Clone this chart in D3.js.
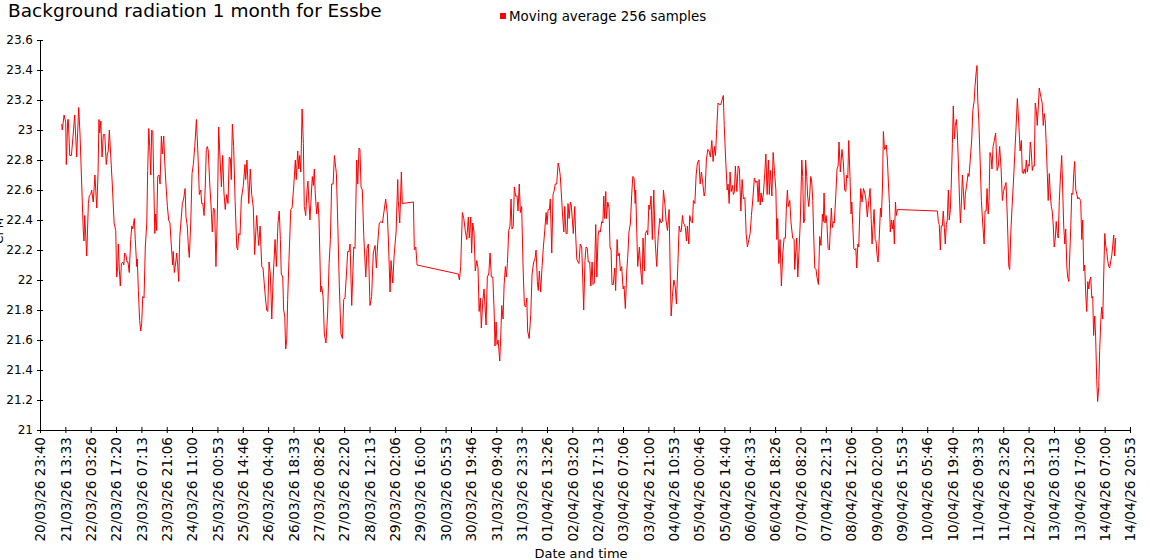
<!DOCTYPE html>
<html><head><meta charset="utf-8">
<script src="https://cdn.jsdelivr.net/npm/d3@7"></script>
<style>
body{margin:0;background:#fff}
svg{display:block}
text{font-family:"DejaVu Sans",Verdana,sans-serif;fill:#000}
</style>
</head><body>
<svg id="chart" width="1150" height="560"></svg>
<script>
const chartTitle = "Background radiation 1 month for Essbe";
const seriesName = "Moving average 256 samples";
const xTitle = "Date and time";
const yTitle = "CPM";
const startTime = "2026-03-20T23:40:00Z";
const endTime = "2026-04-14T20:53:20Z";
const xTickCount = 44;
const yTickValues = [21, 21.2, 21.4, 21.6, 21.8, 22, 22.2, 22.4, 22.6, 22.8, 23, 23.2, 23.4, 23.6];
const yTickLabels = ["21","21.2","21.4","21.6","21.8","22","22.2","22.4","22.6","22.8","23","23.2","23.4","23.6"];
// [hours since start, value]
const readings = [
[11.9,23.04],[12.2,23.00],[13.2,23.10],[14.1,23.05],[14.4,22.77],[15.2,23.07],[15.5,23.07],[16.3,22.83],[17.2,22.83],[18.1,22.96],
[19.0,23.10],[20.1,22.82],[21.2,23.15],[21.9,22.98],[22.9,22.62],[23.7,22.33],[24.1,22.26],[24.5,22.43],[25.6,22.16],[26.5,22.51],
[27.0,22.56],[27.8,22.57],[28.3,22.60],[29.2,22.52],[30.1,22.70],[31.1,22.48],[31.8,22.71],[32.3,23.07],[32.7,22.98],[33.3,23.06],
[34.0,22.82],[34.7,22.97],[35.5,22.97],[36.3,22.77],[36.9,22.84],[37.4,22.86],[38.0,23.00],[38.7,22.84],[39.6,22.64],[40.6,22.38],
[41.5,22.33],[42.0,22.02],[42.6,22.09],[42.9,22.24],[43.5,22.06],[44.0,21.96],[44.6,22.11],[45.3,22.12],[45.9,22.10],[46.4,22.18],
[47.0,22.17],[47.7,22.12],[48.2,22.12],[48.9,22.05],[49.7,22.27],[50.3,22.36],[50.8,22.34],[51.7,22.41],[52.2,22.27],[53.0,22.09],
[53.3,22.14],[53.9,21.93],[54.6,21.73],[55.2,21.66],[55.7,21.71],[56.3,21.89],[57.0,21.88],[57.7,22.22],[58.5,22.38],[59.0,22.73],
[59.6,23.01],[60.1,22.89],[60.7,22.70],[61.2,23.00],[61.8,22.99],[62.3,22.67],[62.9,22.31],[63.4,22.44],[63.9,22.33],[64.5,22.69],
[65.2,22.70],[65.8,22.64],[66.5,22.96],[67.0,22.84],[67.8,22.96],[68.3,22.80],[69.0,22.64],[69.8,22.49],[70.5,22.40],[71.2,22.38],
[71.9,22.24],[72.7,22.10],[73.0,22.19],[73.6,22.05],[74.4,22.12],[74.9,22.18],[75.5,22.09],[76.0,21.99],[76.6,22.29],[77.3,22.40],
[78.0,22.51],[78.7,22.54],[79.5,22.61],[80.0,22.42],[80.7,22.36],[81.3,22.22],[81.8,22.15],[82.6,22.38],[83.3,22.71],[84.0,22.77],
[84.8,22.89],[85.7,23.07],[86.6,22.82],[87.3,22.57],[88.1,22.60],[88.6,22.51],[89.2,22.51],[89.9,22.43],[90.6,22.64],[91.1,22.87],
[91.7,22.89],[92.2,22.86],[93.0,22.64],[93.7,22.50],[94.4,22.32],[95.0,22.48],[95.7,22.47],[96.4,22.09],[97.2,22.46],[97.9,23.02],
[98.6,22.82],[99.4,22.62],[100.1,22.83],[100.8,22.58],[101.5,22.47],[102.3,22.57],[103.0,22.51],[103.7,22.82],[104.3,22.81],[104.8,22.67],
[105.4,23.04],[106.1,22.89],[106.9,22.53],[107.8,22.22],[108.3,22.20],[108.9,22.31],[109.6,22.30],[110.3,22.54],[111.4,22.63],[112.3,22.77],
[112.7,22.67],[113.4,22.80],[114.4,22.51],[115.2,22.74],[116.0,22.57],[116.9,22.48],[117.6,22.17],[118.7,22.43],[119.8,22.23],[120.6,22.36],
[121.5,22.09],[122.2,22.08],[123.3,21.91],[124.2,21.80],[124.8,21.79],[125.5,22.12],[126.2,22.04],[127.0,21.74],[127.7,22.00],[128.8,22.27],
[129.5,22.09],[130.4,22.38],[131.1,22.46],[131.7,22.27],[132.2,22.04],[133.0,22.02],[133.5,21.80],[134.1,21.76],[134.6,21.54],[135.2,21.60],
[135.7,21.87],[136.4,22.13],[137.4,22.47],[138.1,22.48],[139.0,22.62],[139.9,22.80],[140.4,22.67],[141.2,22.86],[141.8,22.74],[142.3,22.83],
[142.9,22.72],[143.6,23.14],[144.3,22.91],[144.8,22.49],[145.6,22.43],[146.3,22.60],[146.8,22.66],[147.4,22.51],[147.9,22.40],[148.7,22.58],
[149.2,22.69],[149.8,22.63],[150.3,22.74],[150.8,22.58],[151.6,22.44],[152.3,22.52],[152.9,22.40],[153.8,21.92],[154.3,21.96],[155.1,21.89],
[155.8,21.64],[156.7,21.58],[157.6,21.78],[158.4,22.11],[159.1,22.27],[159.8,22.64],[160.6,22.64],[161.3,22.83],[162.4,22.71],[163.1,22.40],
[164.0,21.96],[164.9,21.64],[165.7,21.61],[166.4,21.87],[167.1,21.88],[167.8,22.02],[168.6,22.19],[169.3,22.19],[169.9,22.24],[170.8,21.83],
[171.9,22.22],[172.6,22.21],[173.5,22.80],[174.1,22.64],[174.8,22.88],[175.3,22.87],[175.9,22.62],[176.6,22.60],[177.4,22.29],[178.5,22.02],
[179.2,22.21],[179.9,22.24],[180.8,21.83],[181.7,21.89],[182.6,22.18],[183.6,22.23],[184.3,22.08],[185.0,22.24],[185.9,22.38],[186.8,22.39],
[187.6,22.38],[188.3,22.44],[189.4,22.54],[190.3,22.44],[190.9,22.26],[191.8,21.92],[192.3,22.13],[193.3,21.98],[194.0,22.16],[195.1,22.32],
[196.0,22.67],[196.3,22.53],[197.1,22.38],[198.0,22.72],[198.5,22.51],[204.6,22.52],[205.1,22.20],[205.9,22.22],[206.6,22.10],[229.2,22.04],
[229.8,22.00],[230.5,22.09],[231.4,22.45],[232.2,22.41],[233.0,22.33],[233.8,22.27],[234.7,22.42],[235.2,22.28],[236.0,22.42],[236.5,22.18],
[237.1,22.38],[237.8,22.32],[238.5,22.06],[239.3,22.13],[240.0,22.08],[240.6,21.79],[241.3,21.88],[241.8,21.68],[242.6,21.86],[243.3,21.94],
[244.4,21.70],[245.1,22.02],[245.9,22.04],[246.6,22.18],[247.3,22.02],[248.1,22.02],[248.8,21.80],[249.3,21.56],[249.9,21.72],[250.4,21.57],
[251.0,21.60],[251.9,21.46],[252.5,21.64],[253.0,21.83],[253.7,21.74],[254.3,21.97],[255.0,22.09],[255.5,22.02],[256.1,22.11],[256.8,22.33],
[257.5,22.36],[258.1,22.54],[258.6,22.34],[259.3,22.36],[259.9,22.62],[260.6,22.56],[261.4,22.56],[261.9,22.46],[262.6,22.64],[263.2,22.45],
[263.9,22.49],[264.7,22.08],[265.4,21.83],[266.1,21.82],[266.7,21.88],[267.2,21.66],[268.0,21.61],[268.9,21.77],[269.6,22.04],[270.5,22.12],
[271.2,22.14],[271.8,22.20],[272.5,21.99],[273.0,21.93],[273.6,22.06],[274.3,21.92],[275.1,22.09],[275.8,22.22],[276.5,22.32],[277.3,22.45],
[277.8,22.37],[278.4,22.47],[279.1,22.47],[279.6,22.54],[280.4,22.18],[281.1,22.57],[281.8,22.60],[282.3,22.64],[283.1,22.64],[283.9,22.78],
[284.6,22.74],[285.1,22.69],[285.9,22.52],[286.4,22.42],[287.0,22.32],[287.5,22.49],[288.2,22.31],[288.8,22.31],[289.3,22.51],[289.9,22.41],
[290.6,22.52],[291.1,22.50],[291.7,22.40],[292.2,22.31],[293.0,22.49],[293.5,22.30],[294.1,22.14],[294.8,22.12],[295.3,22.11],[296.0,22.24],
[296.8,22.22],[297.4,22.00],[297.9,21.80],[298.6,22.13],[299.2,22.22],[299.9,22.21],[300.4,22.12],[301.2,22.12],[301.8,21.96],[302.5,22.12],
[303.0,21.97],[303.7,21.98],[304.5,22.37],[305.1,22.02],[305.8,22.30],[306.3,22.33],[307.0,22.32],[307.8,22.39],[308.4,22.38],[308.9,22.56],
[309.4,22.41],[310.0,22.59],[310.3,22.41],[311.1,22.52],[311.8,22.48],[312.3,22.22],[312.9,22.20],[313.4,21.97],[314.1,21.97],[314.9,22.08],
[315.4,21.93],[316.2,22.27],[316.7,22.16],[317.4,22.18],[318.0,22.06],[318.7,22.09],[319.5,21.94],[320.0,21.96],[320.7,21.81],[321.5,22.06],
[322.0,22.15],[322.7,22.32],[323.5,22.38],[324.2,22.57],[324.8,22.69],[325.5,22.68],[326.1,22.51],[326.4,22.60],[327.0,22.31],[327.5,22.09],
[328.4,22.22],[329.2,22.06],[329.9,21.97],[330.4,22.28],[331.2,22.06],[331.7,22.31],[332.5,22.33],[333.0,22.30],[333.6,22.50],[334.1,22.47],
[334.8,22.56],[335.5,22.27],[336.3,22.60],[337.0,22.27],[337.9,22.09],[338.7,22.29],[339.6,22.41],[340.3,22.38],[341.0,22.39],[341.6,22.60],
[342.5,22.49],[343.0,22.40],[343.8,22.33],[344.7,22.47],[345.2,22.12],[345.8,21.76],[346.5,21.89],[347.3,22.00],[348.0,21.96],[348.7,21.84],
[349.5,22.11],[350.2,22.36],[350.9,22.32],[351.4,22.33],[352.0,22.43],[352.5,22.38],[353.1,22.37],[353.6,22.35],[354.2,22.26],[354.7,22.36],
[355.5,22.24],[356.0,22.43],[356.7,22.39],[357.5,22.38],[358.0,22.53],[358.8,22.51],[359.5,22.70],[360.2,22.78],[361.0,22.80],[361.7,22.64],
[362.4,22.72],[363.2,22.64],[363.9,22.56],[364.4,22.59],[365.1,22.80],[365.9,22.87],[366.6,22.86],[367.3,22.82],[368.1,22.93],[368.8,22.79],
[369.5,22.89],[370.1,22.83],[370.8,23.01],[371.5,23.18],[372.2,23.17],[373.0,23.17],[373.7,23.20],[374.4,23.23],[374.9,23.03],[375.7,22.80],
[376.5,22.60],[377.0,22.64],[377.6,22.51],[378.1,22.72],[378.7,22.59],[379.4,22.63],[379.9,22.57],[380.5,22.59],[381.0,22.76],[381.8,22.59],
[382.5,22.76],[383.2,22.74],[384.0,22.46],[384.7,22.67],[385.4,22.54],[386.2,22.55],[386.9,22.31],[387.6,22.22],[388.4,22.27],[389.1,22.31],
[389.8,22.43],[390.7,22.56],[391.4,22.68],[392.2,22.65],[392.9,22.66],[393.5,22.52],[394.0,22.67],[394.6,22.50],[395.1,22.58],[395.7,22.52],
[396.4,22.58],[397.1,22.71],[397.7,22.84],[398.4,22.57],[399.1,22.80],[399.6,22.57],[400.2,22.73],[401.0,22.56],[401.7,22.85],[402.4,22.73],
[403.2,22.60],[403.7,22.27],[404.2,22.41],[404.8,22.11],[405.5,22.27],[406.2,21.96],[407.0,22.18],[407.7,22.28],[408.4,22.28],[408.9,22.47],
[409.5,22.60],[410.0,22.49],[410.8,22.53],[411.5,22.38],[412.4,22.28],[413.2,22.27],[413.5,22.07],[414.1,22.19],[414.6,22.28],[415.2,22.02],
[415.9,22.20],[416.6,22.40],[417.4,22.80],[417.9,22.69],[418.4,22.38],[419.0,22.40],[419.5,22.80],[420.1,22.69],[420.6,22.56],[421.2,22.49],
[421.7,22.56],[422.3,22.69],[422.8,22.66],[423.4,22.53],[423.9,22.30],[424.5,22.08],[425.2,22.07],[425.7,22.02],[426.5,21.97],[427.2,22.29],
[427.9,22.23],[428.7,22.44],[429.2,22.39],[429.6,22.58],[430.1,22.38],[430.7,22.43],[431.2,22.37],[431.8,22.21],[432.5,22.20],[433.0,22.33],
[433.6,22.48],[434.1,22.35],[434.7,22.39],[435.2,22.38],[436.0,22.56],[436.7,22.74],[437.3,22.76],[437.8,22.92],[438.5,22.72],[439.4,22.87],
[440.2,22.78],[440.9,22.60],[441.5,22.59],[442.0,22.70],[442.6,22.68],[443.1,22.93],[443.8,22.69],[444.4,22.44],[444.8,22.52],[445.3,22.37],
[445.9,22.21],[446.4,22.20],[447.0,22.21],[447.5,22.08],[448.1,22.24],[448.6,22.22],[449.2,22.46],[449.7,22.61],[450.4,22.52],[451.2,22.61],
[451.9,22.58],[452.6,22.53],[453.3,22.42],[454.1,22.53],[454.8,22.61],[455.4,22.41],[455.9,22.24],[456.5,22.37],[457.0,22.47],[457.6,22.27],
[458.1,22.26],[458.6,22.17],[459.2,22.12],[459.9,22.30],[460.5,22.48],[461.0,22.42],[461.6,22.62],[462.1,22.99],[462.7,22.87],[463.2,22.88],
[463.7,22.90],[464.3,22.80],[464.8,22.66],[465.4,22.51],[465.9,22.32],[466.5,22.40],[467.0,22.34],[467.6,22.40],[468.1,22.24],[468.7,22.52],
[469.2,22.43],[469.8,22.47],[491.7,22.46],[492.2,22.39],[492.7,22.37],[493.3,22.20],[493.8,22.36],[494.4,22.36],[494.9,22.46],[495.5,22.35],
[496.0,22.24],[496.6,22.37],[497.1,22.40],[497.7,22.60],[498.2,22.40],[498.8,22.47],[499.3,22.64],[499.9,22.91],[500.4,23.16],[501.0,22.94],
[501.5,23.03],[502.1,23.07],[502.6,22.98],[503.2,22.78],[503.7,22.58],[504.3,22.38],[504.8,22.50],[505.4,22.70],[505.9,22.60],[506.5,22.47],
[507.0,22.57],[507.8,22.64],[508.5,22.71],[509.0,22.69],[509.8,22.82],[510.5,22.94],[511.1,23.13],[511.8,23.19],[512.3,23.29],[512.9,23.38],
[513.4,23.43],[513.8,23.20],[514.4,23.06],[515.1,22.80],[515.8,22.53],[516.5,22.38],[517.3,22.24],[517.8,22.46],[518.4,22.46],[518.9,22.61],
[519.5,22.44],[520.0,22.53],[520.5,22.85],[521.1,22.82],[521.6,22.74],[522.2,22.89],[522.9,22.93],[523.6,22.98],[524.4,22.73],[525.1,22.76],
[525.8,22.89],[526.6,22.74],[527.3,22.53],[527.9,22.59],[528.6,22.62],[529.3,22.65],[530.0,22.42],[530.8,22.09],[531.3,22.07],[531.9,22.31],
[532.6,22.49],[533.3,22.64],[534.1,22.84],[534.8,23.02],[535.5,23.21],[536.3,23.04],[537.0,22.86],[537.7,22.93],[538.2,22.72],[538.8,22.71],
[539.3,22.74],[539.9,22.71],[540.4,22.80],[541.0,22.72],[541.5,22.77],[542.0,22.76],[542.6,22.92],[543.1,22.86],[543.7,22.73],[544.2,22.76],
[544.8,22.76],[545.3,23.18],[545.9,23.13],[546.4,23.03],[547.0,23.16],[547.5,23.28],[548.1,23.24],[548.6,23.21],[549.1,23.18],[549.7,23.03],
[550.2,23.11],[550.8,23.06],[551.3,22.91],[551.9,22.71],[552.4,22.53],[553.0,22.71],[553.5,22.58],[554.1,22.49],[554.6,22.46],[555.2,22.36],
[555.7,22.22],[556.3,22.28],[556.8,22.39],[557.4,22.31],[557.9,22.28],[558.5,22.53],[559.0,22.66],[559.8,22.83],[560.4,22.58],[560.9,22.36],
[561.5,22.24],[562.0,22.34],[562.6,22.09],[563.1,22.02],[563.7,21.99],[564.2,22.16],[564.8,22.36],[565.3,22.58],[565.9,22.57],[566.4,22.71],
[566.9,22.79],[567.5,22.60],[568.0,22.58],[568.6,22.54],[569.1,22.55],[569.7,22.54],[570.2,22.53],[570.8,22.27],[571.3,22.40],[571.9,22.06],
[572.4,22.10],[573.0,21.90],[573.5,21.79],[574.1,21.99],[574.6,21.94],[575.2,22.00],[575.7,22.02],[576.3,21.88],[576.8,21.89],[577.3,21.63],
[577.9,21.76],[578.4,21.62],[579.0,21.33],[579.5,21.19],[580.1,21.29],[580.6,21.53],[581.2,21.72],[581.7,21.82],[582.3,21.74],[582.8,22.02],
[583.4,22.31],[583.9,22.23],[584.5,22.19],[585.0,22.13],[585.6,22.09],[586.1,22.08],[586.7,22.13],[587.2,22.16],[587.7,22.22],[588.3,22.30],
[588.8,22.16],[589.4,22.28]
];

const W = 1150, H = 560;
const svg = d3.select("#chart");
const t0 = new Date(startTime), t1 = new Date(endTime);

const x = d3.scaleUtc().domain([t0, t1]).range([40, 1130]);
const y = d3.scaleLinear().domain([21, 23.6]).range([430, 40]);

const tickStep = (t1 - t0) / (xTickCount - 1);
const xTickValues = d3.range(xTickCount).map(i => new Date(+t0 + i * tickStep));
const fmt = d3.utcFormat("%d/%m/%y %H:%M");

// title
svg.append("text").attr("x", 8).attr("y", 17).attr("font-size", 18.5).text(chartTitle);

// legend
svg.append("rect").attr("x", 500).attr("y", 13).attr("width", 6).attr("height", 6).attr("fill", "#ff0000");
svg.append("text").attr("x", 509).attr("y", 21).attr("font-size", 13.4).text(seriesName);

// y axis
const yAxis = d3.axisLeft(y).tickValues(yTickValues).tickFormat((d, i) => yTickLabels[i]).tickSizeInner(3).tickSizeOuter(0).tickPadding(4);
const gy = svg.append("g").attr("transform", "translate(40,0)").call(yAxis);
gy.select(".domain").attr("stroke", "#000");
gy.selectAll(".tick line").attr("x1", -3).attr("x2", 3).attr("stroke", "#000");
gy.selectAll(".tick text").attr("font-size", 12).attr("font-family", "DejaVu Sans, Verdana, sans-serif").attr("x", -7);

// x axis
const xAxis = d3.axisBottom(x).tickValues(xTickValues).tickFormat(fmt).tickSizeInner(3).tickSizeOuter(0);
const gx = svg.append("g").attr("transform", "translate(0,430)").call(xAxis);
gx.select(".domain").attr("stroke", "#000");
gx.selectAll(".tick line").attr("y1", -3).attr("y2", 3).attr("stroke", "#000");
gx.selectAll(".tick text")
  .attr("font-size", 13.6).attr("font-family", "DejaVu Sans, Verdana, sans-serif")
  .attr("transform", "rotate(-90)")
  .attr("text-anchor", "end")
  .attr("x", -7).attr("y", 0).attr("dy", "0.35em");

// axis titles
svg.append("text").attr("x", 581).attr("y", 558).attr("text-anchor", "middle").attr("font-size", 13).text(xTitle);
svg.append("text").attr("transform", "translate(3,231) rotate(-90)").attr("text-anchor", "middle").attr("font-size", 12).text(yTitle);

// line
const line = d3.line()
  .x(d => x(new Date(+t0 + d[0] * 3600e3)))
  .y(d => y(d[1]));
svg.append("path").datum(readings)
  .attr("fill", "none").attr("stroke", "#ff0000").attr("stroke-width", 1)
  .attr("d", line);
</script>
</body></html>
